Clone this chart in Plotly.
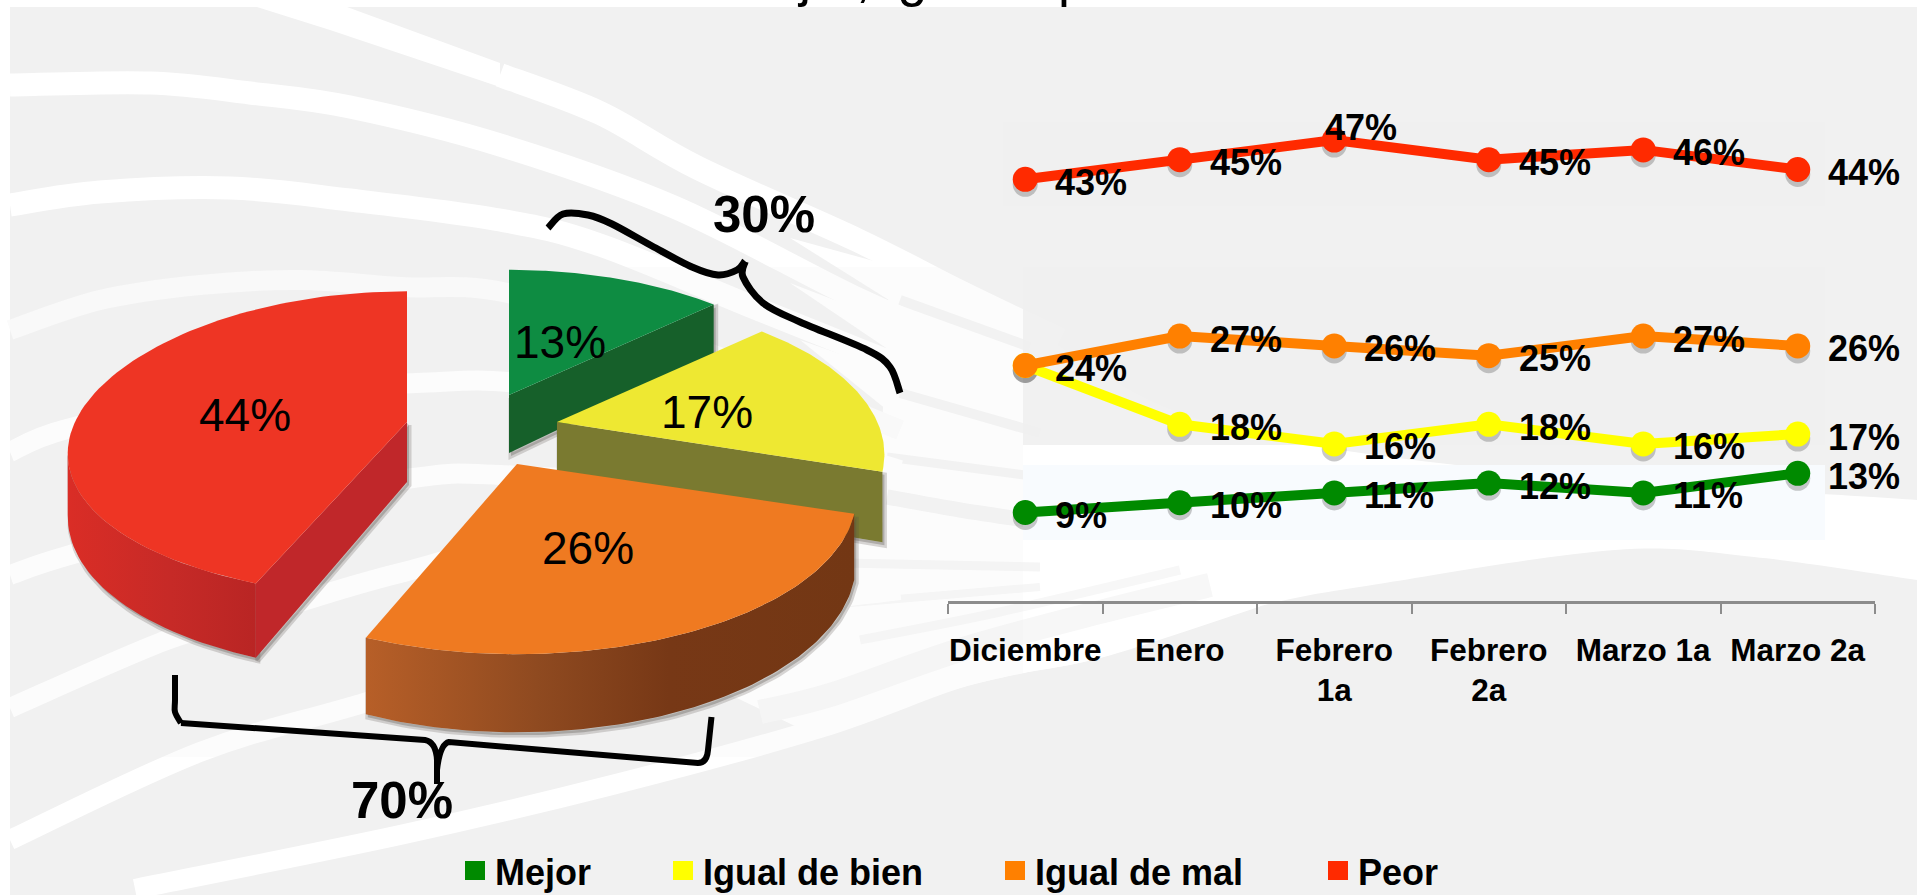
import numpy as np
import plotly.graph_objects as go

# ---------- data ----------
categories = ["Diciembre", "Enero", "Febrero<br>1a", "Febrero<br>2a", "Marzo 1a", "Marzo 2a"]
mejor = [9, 10, 11, 12, 11, 13]
igual_bien = [24, 18, 16, 18, 16, 17]
igual_mal = [24, 27, 26, 25, 27, 26]
peor = [43, 45, 47, 45, 46, 44]
pie_names = ["Mejor", "Igual de bien", "Igual de mal", "Peor"]
pie_values = [13, 17, 26, 44]
brace_labels = ["30%", "70%"]

# ---------- style ----------
W, H = 1917, 895
FONT = "Liberation Sans"
line_colors = ["#008a00", "#ffff00", "#ff8000", "#ff2a00"]
top_colors = ["#0e8c42", "#eee832", "#ef7a21", "#ee3524"]
wall_colors = ["#16602a", "#7a7a30", None, "#c0272a"]
explode = [(509, 395), (557, 422), (517, 464), (407, 422)]
wall_h = [58, 66, 62, 60]
rx_scale = [0.965, 0.965, 1.0, 1.0]
ry_scale = [1.0, 1.0, 1.0, 0.985]
ry_tilt = [0.0, 0.0, 0.0, 0.06]
RX, RY, P = 332, 151, 0.206


def smooth(pts, close=False):
    pts = [np.array(p, float) for p in pts]
    d = f"M {pts[0][0]:.1f},{pts[0][1]:.1f}"
    for i in range(len(pts) - 1):
        p0 = pts[max(i - 1, 0)]
        p1, p2 = pts[i], pts[i + 1]
        p3 = pts[min(i + 2, len(pts) - 1)]
        c1 = p1 + (p2 - p0) / 6
        c2 = p2 - (p3 - p1) / 6
        d += f" C {c1[0]:.1f},{c1[1]:.1f} {c2[0]:.1f},{c2[1]:.1f} {p2[0]:.1f},{p2[1]:.1f}"
    return d + (" Z" if close else "")


shapes = []


def band(pts, width, color="#ffffff"):
    shapes.append(dict(type="path", path=smooth(pts), xref="x", yref="y", layer="below",
                       line=dict(color=color, width=width)))


def blob(d, color):
    shapes.append(dict(type="path", path=d, xref="x", yref="y", layer="below",
                       fillcolor=color, line=dict(width=0)))


def rect(x0, y0, x1, y1, color):
    shapes.append(dict(type="rect", x0=x0, y0=y0, x1=x1, y1=y1, xref="x", yref="y", layer="below",
                       fillcolor=color, line=dict(width=0)))


# background
rect(10, 7, W, H, "#f1f1f1")
# white fan towards the centre
fan_top = [(890, 262), (1023, 325), (1200, 420), (1500, 470), (1917, 500)]
fan_bot = [(1917, 580), (1754, 557), (1615, 550), (1385, 583), (1257, 607), (1103, 657), (1023, 673),
           (953, 690), (880, 715), (820, 738)]
blob(smooth(fan_top) + " L " + smooth(fan_bot)[2:] + " L 720,690 L 800,560 L 880,470 Z", "#ffffff")
# tapering wedges that merge the streaks into the fan
for d in ["M 790,238 L 892,266 L 892,302 Z", "M 790,283 L 892,322 L 892,352 Z", "M 800,340 L 892,372 L 892,414 Z"]:
    blob(d, "#ffffff")
# grey streaks inside the fan
for s, w, col in [([(900, 300), (1030, 347)], 10, "#f3f3f3"), ([(900, 393), (1040, 433)], 10, "#f3f3f3"),
                  ([(887, 457), (1040, 477)], 9, "#f3f3f3"),
                  ([(887, 497), (960, 510), (1040, 522)], 15, "#f2f2f2"), ([(843, 563), (1040, 567)], 9, "#f5f5f5"),
                  ([(850, 603), (1040, 587)], 8, "#f6f6f6"),
                  ([(760, 712), (830, 695), (960, 650), (1100, 612), (1210, 585)], 24, "#f7f7f7"),
                  ([(860, 640), (1000, 612), (1180, 570)], 9, "#f7f7f7")]:
    band(s, w, col)
# white streaks
blob("M 257,7 L 347,7 L 500,63 L 500,87 L 330,30 Z", "#ffffff")
band([(500, 75), (600, 113), (698, 168), (857, 240), (960, 292), (1060, 340)], 24)
band([(10, 85), (150, 83), (250, 93), (350, 107), (500, 145), (674, 207), (860, 300), (1000, 360)], 23)
band([(10, 205), (100, 192), (230, 188), (350, 200), (500, 220), (600, 245), (760, 310), (960, 390)], 23)
band([(10, 330), (100, 300), (200, 285), (300, 280), (400, 287), (508, 293), (700, 350), (900, 430)], 20, "#fbfbfb")
band([(10, 452), (67, 429), (230, 395), (416, 383), (520, 383), (700, 410), (900, 470)], 20)
band([(10, 575), (70, 555), (240, 510), (413, 478), (500, 475), (700, 490), (900, 520)], 20)
band([(10, 708), (167, 640), (267, 612), (400, 573), (600, 530), (900, 540)], 20)
band([(10, 840), (200, 752), (367, 702), (600, 630), (900, 590)], 20)
band([(135, 889), (400, 835), (612, 785), (820, 728), (953, 680), (1023, 663), (1103, 647), (1257, 597)], 20)
# faint picture panels laid over the streaks
rect(10, 267, 1023, 757, "rgba(240,241,241,0.22)")
rect(1023, 267, 1825, 445, "rgba(240,240,240,0.90)")
rect(1003, 122, 1825, 206, "#f0f0f0")
rect(1023, 465, 1825, 540, "#f8fbfe")


# ---------- perspective pie ----------
def proj(theta, c, h=0.0, i=0):
    u, v = np.sin(theta), -np.cos(theta)
    s = 1 / (1 - P * v)
    return (c[0] + RX * rx_scale[i] * u * s,
            c[1] + RY * ry_scale[i] * (1 - ry_tilt[i] * v) * v * s + h * s)


fig = go.Figure()
P_AXES = dict(xaxis="x", yaxis="y", showlegend=False, hoverinfo="skip")


def poly(xs, ys, color=None, **kw):
    fig.add_trace(go.Scatter(x=list(xs), y=list(ys), mode="lines", fill="toself",
                             fillcolor=color, line=dict(width=0), **P_AXES, **kw))


def halo(xs, ys):
    fig.add_trace(go.Scatter(x=[a + 2 for a in xs], y=[b + 3 for b in ys], mode="lines", fill="toself",
                             fillcolor="rgba(80,75,70,0.30)",
                             line=dict(width=5, color="rgba(80,75,70,0.22)"), **P_AXES))


edges = np.cumsum([0] + pie_values) / sum(pie_values) * 2 * np.pi
polys = {}
for i in range(len(pie_values)):
    t = np.linspace(edges[i], edges[i + 1], 90)
    c, h = explode[i], wall_h[i]
    ax, ay = proj(t, c, 0, i)
    top = (np.r_[c[0], ax, c[0]], np.r_[c[1], ay, c[1]])
    a_r = edges[i + 1] if i < 2 else edges[i]
    sx, sy = proj(a_r, c, 0, i)
    sbx, sby = proj(a_r, c, h, i)
    radial = ([c[0], sx, sbx, c[0], c[0]], [c[1], sy, sby, c[1] + h, c[1]])
    arc = None
    if i >= 2:
        keep = t if i == 2 else t[: int(np.argmin(ax)) + 1]
        ux, uy = proj(keep, c, 0, i)
        lx, ly = proj(keep, c, h, i)
        arc = (np.r_[ux, lx[::-1], ux[0]], np.r_[uy, ly[::-1], uy[0]])
    polys[i] = (top, radial, arc)

for i in [0, 1, 3, 2]:
    top, radial, arc = polys[i]
    if i == 2:
        halo(*arc)
        poly(*arc, fillgradient=dict(type="horizontal", colorscale=[[0, "#b75f28"], [0.35, "#8f4a20"],
                                                                    [0.62, "#773816"], [1, "#733714"]]))
    elif i == 3:
        halo(*arc)
        halo(*radial)
        poly(*arc, fillgradient=dict(type="horizontal", colorscale=[[0, "#da2d26"], [0.55, "#c62a27"],
                                                                    [1, "#b92524"]]))
        poly(*radial, color=wall_colors[i])
    else:
        halo(*radial)
        poly(*radial, color=wall_colors[i])
    poly(*top, color=top_colors[i])

# ---------- line chart ----------
series = [mejor, igual_bien, igual_mal, peor]
for vals in series:
    fig.add_trace(go.Scatter(x=categories, y=vals, xaxis="x2", yaxis="y2", mode="markers", showlegend=False,
                             hoverinfo="skip", marker=dict(size=25, color="rgba(60,60,60,0.28)")))
for name, vals, col in zip(pie_names, series, line_colors):
    fig.add_trace(go.Scatter(x=categories, y=vals, xaxis="x3", yaxis="y3", mode="lines+markers", name=name,
                             showlegend=False, line=dict(color=col, width=10),
                             marker=dict(size=25, color=col)))

ann = []
for s_i, vals in enumerate(series):
    for k, v in enumerate(vals):
        if s_i == 1 and k == 0:
            continue  # coincides with the orange point; the picture labels it once
        dx, dy = (28, -3)
        if v == 47:
            dx, dy = (-11, 13)
        ann.append(dict(x=categories[k], y=v, xref="x3", yref="y3", text=f"{v}%", showarrow=False,
                        xanchor="left", yanchor="middle", xshift=dx, yshift=dy,
                        font=dict(family=FONT, size=36, color="black", weight="bold")))


def label(x, y, text, size, bold=False, xanchor="center"):
    ann.append(dict(x=x, y=y, xref="x", yref="y", text=text, showarrow=False, xanchor=xanchor, yanchor="middle",
                    font=dict(family=FONT, size=size, color="black", weight="bold" if bold else "normal")))


for (px, py), v in zip([(560, 342), (707, 412), (588, 548), (245, 415)], pie_values):
    label(px, py, f"{v}%", 46)
label(764, 214, brace_labels[0], 51, True)
label(402, 800, brace_labels[1], 51, True)

# clipped heading at the very top of the picture
ann.append(dict(x=723, y=9, xref="x", yref="y", text="mejor, igual o peor", showarrow=False,
                xanchor="left", yanchor="bottom", font=dict(family=FONT, size=53.5, color="black")))

# legend
leg_x = [465, 673, 1005, 1328]
for name, col, lx in zip(pie_names, line_colors, leg_x):
    shapes.append(dict(type="rect", x0=lx, x1=lx + 20, y0=861, y1=880, xref="x", yref="y",
                       fillcolor=col, line=dict(width=0), layer="above"))
    label(lx + 28, 872, name, 36, True, xanchor="left")

# braces
brace30 = [(548, 228), (563, 214), (588, 215), (612, 224), (652, 246), (692, 267), (718, 275), (737, 270), (745, 261)]
brace30b = [(745, 262), (743, 277), (763, 303), (800, 322), (867, 350), (890, 367), (900, 393)]
brace70a = [(175, 675), (175, 700), (175, 712), (181, 723)]
for pts, wd in [(brace30, 7), (brace30b, 7), (brace70a, 6)]:
    shapes.append(dict(type="path", path=smooth(pts), xref="x", yref="y", layer="above",
                       line=dict(color="black", width=wd)))
shapes.append(dict(type="path", xref="x", yref="y", layer="above", line=dict(color="black", width=6),
                   path="M 181,723 L 425,740 Q 436,742 437,760 L 437,784 M 437,770 Q 440,744 449,742 L 698,763"
                        " Q 707,763 708,750 L 711.5,717"))

axis_off = dict(visible=False, showgrid=False, zeroline=False, fixedrange=True)
dom_x = [948 / W, 1875 / W]
y_dom = [(H - 600.7) / H, (H - 110.7) / H]
fig.update_layout(
    width=W, height=H, margin=dict(l=0, r=0, t=0, b=0), paper_bgcolor="white", plot_bgcolor="rgba(0,0,0,0)",
    showlegend=False, shapes=shapes, annotations=ann,
    xaxis=dict(axis_off, range=[0, W], domain=[0, 1]),
    yaxis=dict(axis_off, range=[H, 0], domain=[0, 1]),
    xaxis2=dict(axis_off, type="category", categoryorder="array", categoryarray=categories, domain=dom_x,
                anchor="y2", range=[-0.5, 5.5]),
    yaxis2=dict(axis_off, range=[0, 50], domain=[y_dom[0] - 5 / H, y_dom[1] - 5 / H], anchor="x2"),
    xaxis3=dict(type="category", categoryorder="array", categoryarray=categories, domain=dom_x, anchor="y3",
                range=[-0.5, 5.5], tickson="boundaries", ticks="outside", ticklen=10, tickwidth=2,
                tickcolor="#8c8c8c", linecolor="#8c8c8c", linewidth=3, showline=True, showgrid=False,
                zeroline=False, fixedrange=True, ticklabelstandoff=19, tickangle=0,
                tickfont=dict(family=FONT, size=31.5, color="black", weight="bold")),
    yaxis3=dict(axis_off, range=[0, 50], domain=y_dom, anchor="x3"),
)

fig.write_html("out.html", config=dict(displayModeBar=False),
               post_script="document.body.style.margin='0';document.body.style.overflow='hidden';")
